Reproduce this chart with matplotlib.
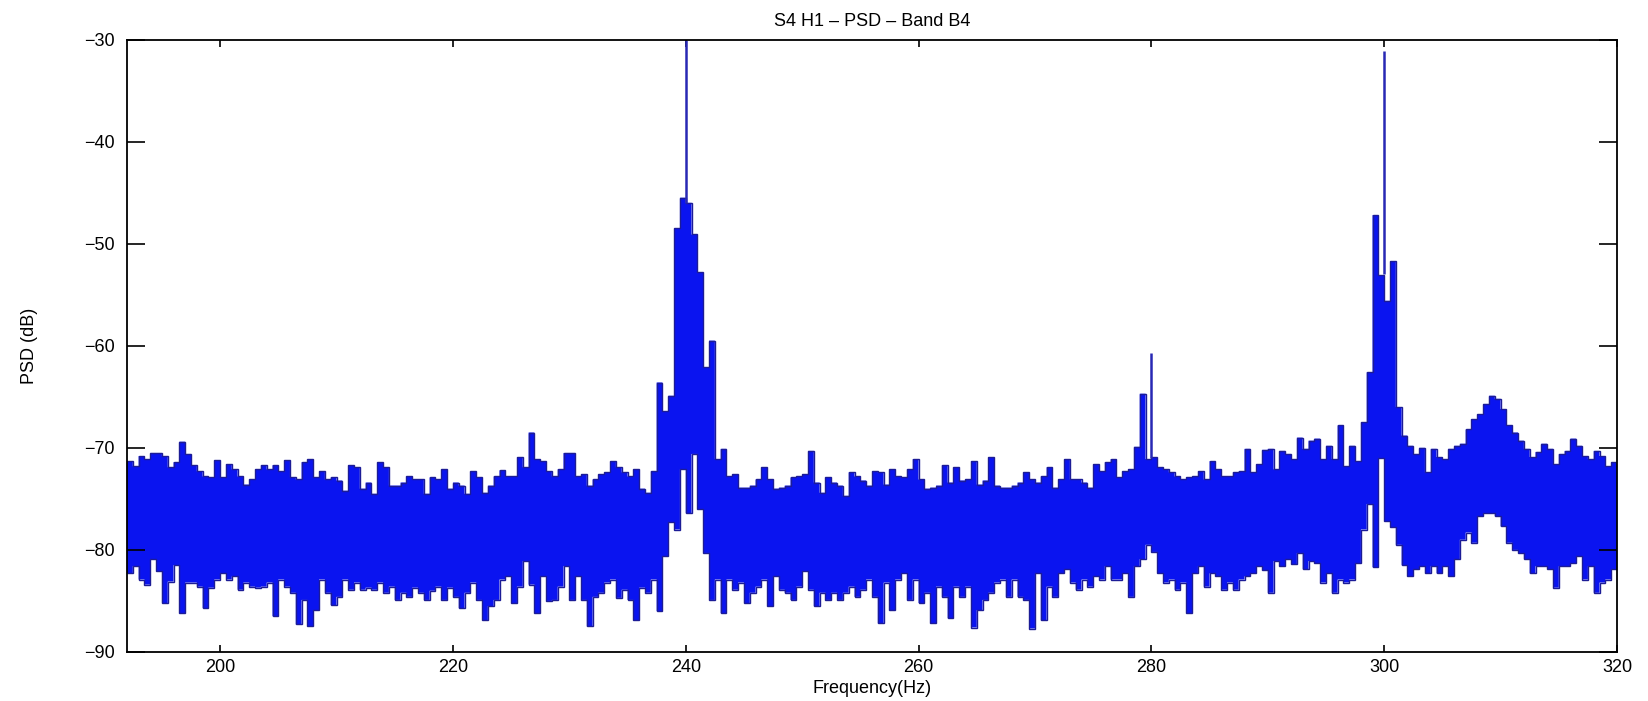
import numpy as np
import matplotlib
matplotlib.use("Agg")
import matplotlib.pyplot as plt

plt.rcParams['font.family'] = ['Liberation Sans', 'DejaVu Sans']

# Spectrum envelope in 0.5 Hz bins, 192-320 Hz (upper and lower PSD level per bin, dB)
bin_width = 0.5
f_start = 192.0
psd_upper = [
    -71.3, -71.8, -70.8, -71.1, -70.5, -70.5, -70.8, -71.9, -71.4, -69.4,   # 192
    -70.6, -71.7, -72.3, -72.8, -72.9, -71.2, -72.9, -71.6, -72.1, -72.8,   # 197
    -73.6, -73.1, -72.1, -71.7, -72.1, -71.7, -72.3, -71.2, -72.9, -73.1,   # 202
    -71.4, -71.1, -72.9, -72.3, -73.1, -72.9, -73.2, -74.2, -71.7, -71.9,   # 207
    -74.0, -73.4, -74.5, -71.4, -71.9, -73.7, -73.7, -73.4, -72.8, -73.1,   # 212
    -73.1, -74.5, -72.9, -73.1, -72.1, -74.0, -73.4, -73.7, -74.5, -72.3,   # 217
    -72.9, -74.4, -73.7, -72.8, -72.2, -72.8, -72.8, -70.9, -71.9, -68.5,   # 222
    -71.1, -71.3, -72.3, -72.8, -72.1, -70.5, -70.5, -72.8, -72.6, -73.7,   # 227
    -73.1, -72.6, -72.4, -71.3, -71.9, -72.4, -72.8, -72.1, -74.0, -74.4,   # 232
    -72.3, -63.6, -66.4, -64.9, -48.5, -45.5, -46.0, -49.1, -52.8, -62.1,   # 237
    -59.5, -71.1, -70.1, -72.8, -72.6, -73.9, -73.9, -73.7, -73.1, -71.9,   # 242
    -73.1, -74.0, -73.9, -73.7, -72.9, -72.8, -72.6, -70.3, -73.4, -74.4,   # 247
    -72.9, -73.4, -73.7, -74.7, -72.4, -72.8, -73.2, -73.7, -72.3, -72.4,   # 252
    -73.6, -72.1, -72.8, -72.9, -72.1, -71.1, -73.1, -74.0, -73.9, -73.7,   # 257
    -71.7, -73.4, -71.9, -73.2, -73.1, -71.3, -73.6, -73.2, -70.9, -73.7,   # 262
    -73.9, -73.9, -73.7, -73.4, -72.4, -73.1, -73.4, -72.8, -71.9, -73.9,   # 267
    -73.1, -71.1, -73.1, -73.1, -73.4, -73.9, -71.6, -72.3, -71.4, -71.1,   # 272
    -72.9, -72.3, -72.1, -69.9, -64.7, -71.1, -70.9, -71.9, -72.1, -72.4,   # 277
    -72.8, -73.1, -72.9, -72.8, -72.3, -73.1, -71.3, -72.1, -72.8, -72.8,   # 282
    -72.4, -72.3, -70.1, -72.4, -71.6, -70.2, -70.1, -72.1, -70.3, -70.6,   # 287
    -71.1, -69.0, -70.1, -69.3, -69.1, -71.1, -69.8, -71.1, -67.8, -71.8,   # 292
    -69.8, -71.3, -67.5, -62.6, -47.2, -53.1, -55.6, -51.7, -66.0, -68.8,   # 297
    -69.8, -70.6, -70.0, -72.4, -70.1, -70.9, -71.1, -70.1, -69.8, -69.6,   # 302
    -68.2, -67.2, -66.7, -65.7, -64.9, -65.2, -66.2, -67.8, -68.5, -69.3,   # 307
    -70.1, -70.9, -70.4, -69.6, -70.1, -71.6, -70.6, -70.3, -69.1, -69.8,   # 312
    -70.8, -71.1, -70.3, -70.8, -71.8, -71.4,                               # 317
]
psd_lower = [
    -82.3, -81.6, -82.9, -83.4, -80.9, -82.1, -85.2, -83.1, -81.5, -86.2,   # 192
    -83.2, -83.2, -83.6, -85.7, -83.7, -82.9, -82.3, -82.9, -82.6, -83.9,   # 197
    -83.2, -83.6, -83.7, -83.6, -83.2, -86.5, -82.9, -83.6, -84.2, -87.3,   # 202
    -84.9, -87.5, -85.9, -82.9, -84.2, -85.4, -84.6, -82.9, -83.9, -83.2,   # 207
    -83.9, -83.7, -83.9, -83.2, -84.2, -83.6, -84.9, -84.2, -84.6, -83.7,   # 212
    -84.2, -84.9, -84.0, -83.6, -84.9, -83.7, -84.6, -85.7, -84.2, -83.2,   # 217
    -84.9, -86.9, -85.5, -84.9, -82.9, -82.6, -85.2, -83.6, -81.1, -83.4,   # 222
    -86.2, -82.6, -85.0, -84.9, -83.6, -81.6, -84.9, -82.6, -84.9, -87.5,   # 227
    -84.6, -84.2, -83.2, -82.9, -84.7, -83.9, -84.9, -86.9, -83.7, -84.2,   # 232
    -82.9, -86.0, -80.6, -77.3, -78.0, -72.1, -76.4, -70.6, -76.0, -80.3,   # 237
    -84.9, -82.9, -86.2, -82.9, -83.9, -83.2, -85.2, -84.2, -83.6, -82.9,   # 242
    -85.5, -82.6, -83.9, -84.2, -84.9, -83.6, -82.1, -83.9, -85.5, -84.2,   # 247
    -84.9, -84.2, -84.9, -84.2, -83.6, -84.6, -83.9, -82.9, -84.6, -87.2,   # 252
    -83.2, -85.9, -82.9, -82.3, -84.9, -82.9, -85.2, -84.2, -87.2, -83.6,   # 257
    -84.6, -86.7, -83.6, -84.6, -83.6, -87.6, -85.9, -84.9, -84.2, -83.2,   # 262
    -82.9, -84.6, -82.9, -84.6, -84.9, -87.7, -82.3, -86.9, -83.6, -84.6,   # 267
    -82.3, -81.9, -83.2, -83.9, -82.9, -83.6, -82.6, -82.9, -81.6, -82.9,   # 272
    -82.9, -82.3, -84.6, -81.6, -80.9, -79.5, -80.2, -82.3, -83.2, -82.9,   # 277
    -83.9, -83.2, -86.2, -82.3, -81.6, -83.6, -82.3, -82.6, -83.9, -83.2,   # 282
    -83.9, -82.9, -82.6, -82.3, -81.6, -82.0, -84.2, -81.1, -81.6, -80.9,   # 287
    -81.4, -80.3, -81.9, -81.1, -81.3, -83.2, -82.3, -84.2, -82.9, -83.2,   # 292
    -82.9, -81.3, -78.0, -75.5, -81.7, -71.0, -77.2, -77.8, -79.5, -81.5,   # 297
    -82.6, -81.9, -81.6, -82.3, -81.6, -82.3, -81.6, -82.6, -80.9, -79.0,   # 302
    -78.3, -79.3, -76.7, -76.4, -76.4, -76.7, -77.7, -79.3, -80.0, -80.3,   # 307
    -80.9, -82.3, -81.6, -81.6, -81.9, -83.7, -81.6, -81.6, -81.3, -80.6,   # 312
    -82.9, -81.6, -84.2, -83.2, -82.9, -81.9,                               # 317
]

# Narrow spectral lines rising above the binned envelope
line_freq = [240.05, 279.95, 300.0]
line_peak = [-30.0, -60.7, -31.1]
line_base = [-46.0, -71.0, -53.0]

x_ticks = [200, 220, 240, 260, 280, 300, 320]
y_ticks = [-90, -80, -70, -60, -50, -40, -30]

upper = np.array(psd_upper)
lower = np.array(psd_lower)
assert len(upper) == len(lower)
edges = f_start + bin_width * np.arange(len(upper) + 1)

fig = plt.figure(figsize=(16.48, 7.01), dpi=100)
ax = fig.add_axes([127 / 1648, 1 - 652 / 701, 1490 / 1648, 612.5 / 701])

fill_col = '#0a14f0'
edge_col = '#1c1c96'
ax.stairs(upper, edges, baseline=lower, fill=True, color=fill_col, lw=0)
ax.stairs(upper, edges, baseline=None, color=edge_col, lw=1.0)
ax.stairs(lower, edges, baseline=None, color=edge_col, lw=1.0)
ax.vlines(line_freq, line_base, line_peak, color='#2828b4', lw=1.8)

ax.set_xlim(192, 320)
ax.set_ylim(-90, -30)
ax.set_xticks(x_ticks)
ax.set_yticks(y_ticks)

ax.tick_params(direction='in', top=True, right=True, labelsize=13, width=1.2, color='black')
ax.tick_params(axis='y', length=13, pad=9)
ax.tick_params(axis='x', length=5, pad=5)
for s in ax.spines.values():
    s.set_linewidth(1.3)

ax.set_title('S4 H1 – PSD – Band B4', fontsize=13, pad=10)
ax.set_xlabel('Frequency(Hz)', fontsize=13)
ax.set_ylabel('PSD (dB)', fontsize=13)
ax.yaxis.set_label_coords(-0.06, 0.5)
ax.xaxis.set_label_coords(0.5, -0.045)

fig.savefig('out.png', dpi=100, facecolor='white')
